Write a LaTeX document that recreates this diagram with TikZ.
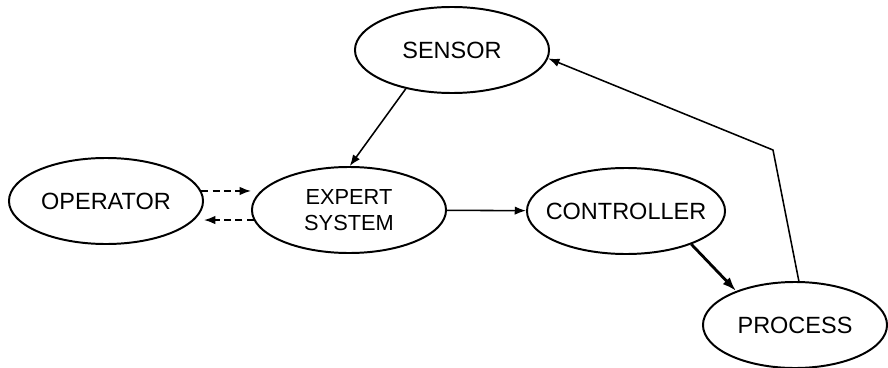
\documentclass[tikz,border=0pt]{standalone}
\usepackage{fontspec}
\setmainfont{Liberation Sans}
\usetikzlibrary{arrows.meta,shapes.geometric}

\begin{document}
\begin{tikzpicture}[x=0.025cm,y=-0.025cm,
      unit/.style={ellipse,draw,line width=1.4pt,
                   minimum width=48.5mm,minimum height=21.5mm,
                   inner xsep=-15mm,inner ysep=0pt,align=center,
                   font=\fontsize{16.7}{20}\selectfont},
      arrow/.style={-{Latex[length=8pt,width=6pt]},line width=1.1pt},
      dasharrow/.style={arrow,dash pattern=on 5pt off 3pt}
    ]
    \useasboundingbox (0,0) rectangle (888,368);

    % Units of the loop (negative inner xsep keeps the ellipses at their minimum size)
    \node[unit] (S) at (452,50) {SENSOR};
    \node[unit] (OP) at (106,201) {OPERATOR};
    \node[unit,font=\fontsize{15.5}{19}\selectfont] (ES) at (349,210) {EXPERT\\SYSTEM};
    \node[unit,minimum width=49.5mm] (C) at (626,211) {CONTROLLER};
    \node[unit,minimum width=46mm] (P) at (795,325) {PROCESS};

    % Corner of the feedback line
    \coordinate (bend) at (773,150);

    % Signal flow
    \draw[arrow] (S.220) -- (ES.89);
    \draw[dasharrow] (OP.6) -- (OP.6 -| ES.west);
    \draw[dasharrow] (ES.186) -- (ES.186 -| OP.east);
    \draw[arrow] (ES) -- (C);
    \draw[arrow,line width=2pt,-{Latex[length=10pt,width=7pt]}] (C.333) -- (P.150);
    \draw[arrow] (P.85) -- (bend) -- (S.355);
\end{tikzpicture}
\end{document}
